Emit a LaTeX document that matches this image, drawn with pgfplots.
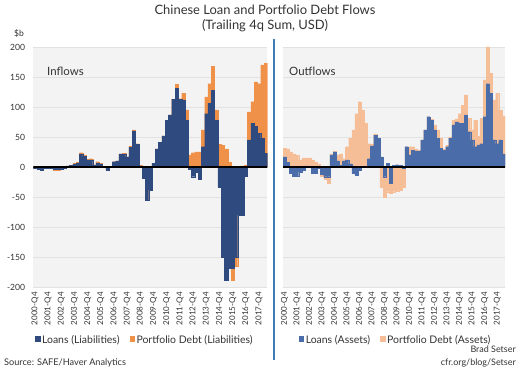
\documentclass[border=0pt]{standalone}
\usepackage{pgfplots}
\pgfplotsset{compat=1.18}
\usepackage{pgfplotstable}
\usepackage{fontspec}
\setmainfont{Lato}
\definecolor{navy}{HTML}{2E4A7E}
\definecolor{orng}{HTML}{F0914A}
\definecolor{blu}{HTML}{4A6DAA}
\definecolor{peach}{HTML}{F5BE97}
\definecolor{panelbg}{HTML}{F3F3F3}
\definecolor{gridc}{HTML}{E2E2E2}
\definecolor{divider}{HTML}{3F7DB8}
\definecolor{txt}{HTML}{333333}

% q = quarter index (0 = 2000-Q4); L = loans; O = outer end of the stacked portfolio-debt bar
\pgfplotstableread{
q L O
0 -2 -2
1 -3 -3
2 -5 -5
3 -2 -2
4 -1 -1
5 -1 -1
6 -4 -5
7 -4 -5
8 -3 -4
9 -2 -2
10 2 2
11 3 3
12 5 6
13 7 8
14 22 24
15 18 20
16 12 13
17 12 14
18 3 4
19 7 9
20 5 6
21 1 1
22 -5 -5
23 0 0
24 9 9
25 10 10
26 22 22
27 22 23
28 17 17
29 33 35
30 60 62
31 38 39
32 2 3
33 -19 -19
34 -55 -55
35 -38 -38
36 6 6
37 30 30
38 41 41
39 52 52
40 78 78
41 87 87
42 113 113
43 131 138
44 113 114
45 112 123
46 78 95
47 -3 20
48 -16 24
49 -8 25
50 -20 25
51 34 62
52 89 117
53 106 139
54 128 168
55 78 95
56 -33 38
57 -150 36
58 -188 30
59 -168 8
60 -168 -188
61 -150 -165
62 -80 -80
63 -80 2
64 -15 3
65 45 92
66 73 109
67 68 142
68 56 139
69 48 170
70 23 173
}\inflows

\pgfplotstableread{
q L O
0 17 31
1 8 30
2 -10 25
3 -15 22
4 -15 20
5 -8 12
6 -5 15
7 2 15
8 0 15
9 -10 12
10 -10 8
11 -2 5
12 -12 -15
13 -16 -20
14 -16 -27
15 20 22
16 25 26
17 10 20
18 3 22
19 10 14
20 12 34
21 5 48
22 -10 62
23 -13 89
24 -5 109
25 0 95
26 0 73
27 14 39
28 35 38
29 53 55
30 48 48
31 17 -33
32 -16 -50
33 6 -41
34 -27 -44
35 3 -41
36 4 -40
37 3 -38
38 -2 -33
39 34 34
40 20 34
41 28 34
42 27 30
43 27 28
44 45 45
45 62 62
46 84 84
47 78 80
48 62 70
49 48 62
50 31 48
51 28 30
52 34 36
53 48 50
54 70 78
55 75 80
56 73 89
57 73 103
58 87 120
59 59 81
60 45 62
61 34 78
62 37 51
63 39 81
64 84 145
65 139 200
66 123 156
67 45 112
68 39 123
69 45 95
70 22 85
}\outflows

\pgfplotsset{
  panel/.style={
    scale only axis, height=240bp,
    xmin=-0.5, xmax=70.5, ymin=-200, ymax=200,
    axis background/.style={fill=panelbg},
    axis line style={draw=none},
    major tick length=0pt,
    ymajorgrids, grid style={gridc, line width=0.7bp},
    ytick={-200,-150,...,200},
    xtick={0,4,...,68},
    xticklabels={2000-Q4,2001-Q4,2002-Q4,2003-Q4,2004-Q4,2005-Q4,2006-Q4,2007-Q4,2008-Q4,2009-Q4,2010-Q4,2011-Q4,2012-Q4,2013-Q4,2014-Q4,2015-Q4,2016-Q4,2017-Q4},
    xticklabel style={rotate=90, anchor=east, inner sep=0pt, font=\fontsize{8.1}{9}\selectfont, text=txt},
    xticklabel shift=5bp,
    /pgf/number format/assume math mode=true,
    legend columns=2,
    legend cell align=left,
    legend style={draw=none, fill=none, inner sep=0pt, font=\fontsize{10.5}{12}\selectfont, text=txt,
      /tikz/every even column/.append style={column sep=8bp}},
  },
  mybar/.style={ybar, bar width=1, bar shift=0pt, fill=#1, draw=#1, line width=0.15bp, forget plot},
  sq/.style={legend image code/.code={\fill[#1] (0bp,-1.2bp) rectangle (4.6bp,3.4bp);}},
}

\begin{document}
\begin{tikzpicture}
\path[use as bounding box] (0,0) rectangle (520bp,373bp);

\begin{axis}[panel, at={(33.3bp,86bp)}, anchor=south west, width=234bp,
  yticklabel style={anchor=east, inner sep=0pt, xshift=-8bp, font=\fontsize{8.6}{9}\selectfont, text=txt},
  legend style={at={(0.477,-0.221)}, anchor=center}]
  \addplot[mybar=orng] table[x=q, y=O] {\inflows};
  \addplot[mybar=navy] table[x=q, y=L] {\inflows};
  \addlegendimage{sq=navy}
  \addlegendentry{Loans (Liabilities)}
  \addlegendimage{sq=orng}
  \addlegendentry{Portfolio Debt (Liabilities)}
  \draw[black, line width=1.3bp] (axis cs:-0.5,0) -- (axis cs:70.5,0);
\end{axis}

\begin{axis}[panel, at={(283bp,86bp)}, anchor=south west, width=222bp,
  yticklabels={},
  legend style={at={(0.507,-0.221)}, anchor=center}]
  \addplot[mybar=peach] table[x=q, y=O] {\outflows};
  \addplot[mybar=blu] table[x=q, y=L] {\outflows};
  \addlegendimage{sq=blu}
  \addlegendentry{Loans (Assets)}
  \addlegendimage{sq=peach}
  \addlegendentry{Portfolio Debt (Assets)}
  \draw[black, line width=1.3bp] (axis cs:-0.5,0) -- (axis cs:70.5,0);
\end{axis}

\draw[divider, line width=1.5bp] (274bp,334bp) -- (274bp,13bp);

\node[align=center, text=txt, font=\fontsize{13}{15}\selectfont] at (265bp,355bp)
  {Chinese Loan and Portfolio Debt Flows\\(Trailing 4q Sum, USD)};
\node[anchor=base west, text=txt, font=\fontsize{8.6}{9}\selectfont, inner sep=0pt] at (14bp,336bp) {\$b};
\node[anchor=base west, text=txt, font=\fontsize{11.5}{13}\selectfont, inner sep=0pt] at (47bp,297bp) {Inflows};
\node[anchor=base west, text=txt, font=\fontsize{11.5}{13}\selectfont, inner sep=0pt] at (289bp,297bp) {Outflows};
\node[anchor=base west, text=txt, font=\fontsize{9.2}{10}\selectfont, inner sep=0pt] at (4bp,8bp) {Source: SAFE/Haver Analytics};
\node[anchor=base east, text=txt, font=\fontsize{9}{10}\selectfont, inner sep=0pt] at (516bp,21bp) {Brad Setser};
\node[anchor=base east, text=txt, font=\fontsize{9}{10}\selectfont, inner sep=0pt] at (516bp,8bp) {cfr.org/blog/Setser};
\end{tikzpicture}
\end{document}
